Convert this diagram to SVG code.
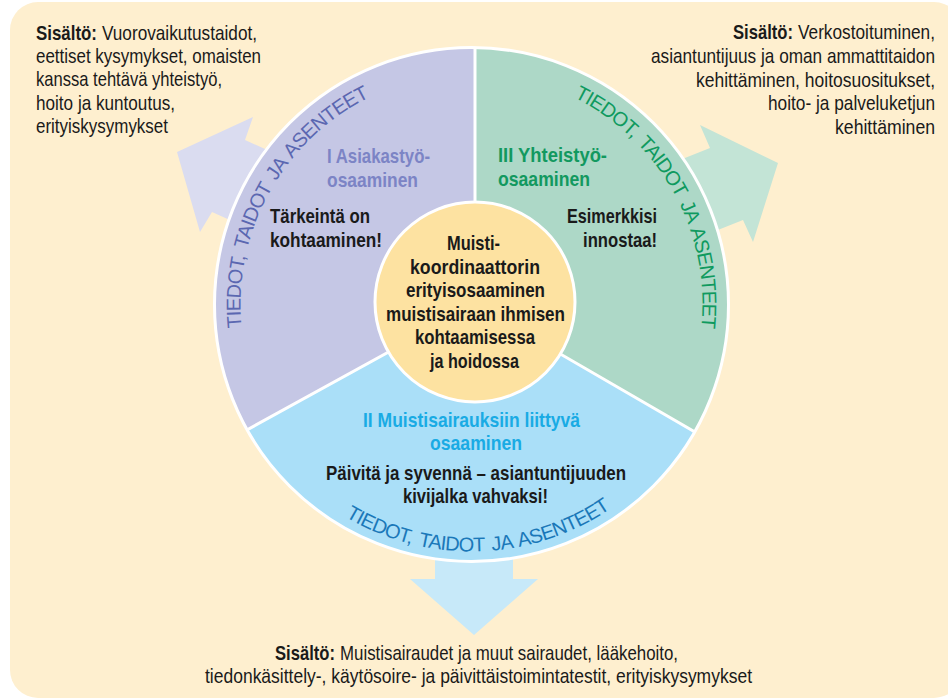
<svg xmlns="http://www.w3.org/2000/svg" width="948" height="699" viewBox="0 0 948 699">
<style>
.t{font-family:"Liberation Sans",Arial,sans-serif;font-size:21px;fill:#1a1a1a}
.b{font-weight:bold}
.e{text-anchor:end}
.arc{font-family:"Liberation Sans",Arial,sans-serif;font-size:20px;letter-spacing:-0.8px;word-spacing:3px}
.pt{fill:#7C84C5}
.gt{fill:#12995F}
.bt{fill:#19ABE4}
.div{stroke:#fff;stroke-width:3;fill:none}
</style>
<defs>
<clipPath id="clipC"><circle cx="471.5" cy="304.5" r="257"/></clipPath>
<path id="arcP" d="M273.5,423.5 A231,231 0 0 1 467.5,73.5"/>
<path id="arcG" d="M475.5,73.5 A231,231 0 0 1 669.5,423.5"/>
<path id="arcB" d="M287.1,468.8 A247,247 0 0 0 665.3,457.6"/>
</defs>
<rect id="background" x="10" y="2" width="952" height="696" rx="28" fill="#FEEFCF"/>

<g id="connectors">
<polygon points="336,181 245,140 253,117 177,152 200,232 212,212 303,253" fill="#DADCF0"/>
<polygon points="617,185 710,148 700,125 778,163 753,242 743,220 650,257" fill="#C3E4D6"/>
<polygon points="435,500 435,579 410,579 474,635 538,579 513,579 513,500" fill="#C7E9F9"/>
</g>

<g id="wheel">
<g clip-path="url(#clipC)">
<circle cx="471.5" cy="304.5" r="257" fill="#AADFF8"/>
<polygon points="475,304.5 475,30 150,30 150,483.25" fill="#C5C7E5"/>
<polygon points="475,304.5 475,30 800,30 800,493" fill="#ADD8C7"/>
<path class="div" d="M475,30 V304.5 M475,304.5 L150,483.25 M475,304.5 L800,493"/>
</g>
<circle cx="471.5" cy="304.5" r="257" fill="none" stroke="#fff" stroke-width="3"/>
</g>

<g id="segment-1">
<text class="arc" fill="#5B67B1"><textPath href="#arcP" startOffset="50%" text-anchor="middle">TIEDOT, TAIDOT JA ASENTEET</textPath></text>
<text class="t b pt" x="327" y="162.5" textLength="103" lengthAdjust="spacingAndGlyphs">I Asiakastyö-</text>
<text class="t b pt" x="327" y="186.5" textLength="91" lengthAdjust="spacingAndGlyphs">osaaminen</text>
<text class="t b" x="270" y="223.3" textLength="100" lengthAdjust="spacingAndGlyphs">Tärkeintä on</text>
<text class="t b" x="270" y="247.3" textLength="112" lengthAdjust="spacingAndGlyphs">kohtaaminen!</text>
</g>

<g id="segment-3">
<text class="arc" fill="#0F9A5F"><textPath href="#arcG" startOffset="50%" text-anchor="middle">TIEDOT, TAIDOT JA ASENTEET</textPath></text>
<text class="t b gt" x="498" y="162" textLength="109" lengthAdjust="spacingAndGlyphs">III Yhteistyö-</text>
<text class="t b gt" x="498" y="186.3" textLength="92" lengthAdjust="spacingAndGlyphs">osaaminen</text>
<text class="t b" x="567" y="223.3" textLength="90" lengthAdjust="spacingAndGlyphs">Esimerkkisi</text>
<text class="t b" x="583" y="247.3" textLength="74" lengthAdjust="spacingAndGlyphs">innostaa!</text>
</g>

<g id="segment-2">
<text class="arc" fill="#1A78B9"><textPath href="#arcB" startOffset="50%" text-anchor="middle">TIEDOT, TAIDOT JA ASENTEET</textPath></text>
<text class="t b bt" x="363" y="426.7" textLength="217" lengthAdjust="spacingAndGlyphs">II Muistisairauksiin liittyvä</text>
<text class="t b bt" x="430" y="450" textLength="92" lengthAdjust="spacingAndGlyphs">osaaminen</text>
<text class="t b" x="326" y="480" textLength="300" lengthAdjust="spacingAndGlyphs">Päivitä ja syvennä – asiantuntijuuden</text>
<text class="t b" x="403" y="503.3" textLength="145" lengthAdjust="spacingAndGlyphs">kivijalka vahvaksi!</text>
</g>

<g id="center">
<circle cx="475" cy="302" r="100" fill="#FDE2A1" stroke="#fff" stroke-width="3"/>
<text class="t b" x="447" y="250" textLength="53" lengthAdjust="spacingAndGlyphs">Muisti-</text>
<text class="t b" x="410" y="273.6" textLength="130" lengthAdjust="spacingAndGlyphs">koordinaattorin</text>
<text class="t b" x="406" y="297.2" textLength="139" lengthAdjust="spacingAndGlyphs">erityisosaaminen</text>
<text class="t b" x="386" y="320.8" textLength="179" lengthAdjust="spacingAndGlyphs">muistisairaan ihmisen</text>
<text class="t b" x="415" y="344.4" textLength="120" lengthAdjust="spacingAndGlyphs">kohtaamisessa</text>
<text class="t b" x="430" y="368" textLength="89" lengthAdjust="spacingAndGlyphs">ja hoidossa</text>
</g>

<g id="content-1">
<text class="t" y="40"><tspan class="b" x="36" textLength="61" lengthAdjust="spacingAndGlyphs">Sisältö:</tspan><tspan x="102" textLength="155" lengthAdjust="spacingAndGlyphs">Vuorovaikutustaidot,</tspan></text>
<text class="t" x="36" y="63.2" textLength="225" lengthAdjust="spacingAndGlyphs">eettiset kysymykset, omaisten</text>
<text class="t" x="36" y="86.4" textLength="186" lengthAdjust="spacingAndGlyphs">kanssa tehtävä yhteistyö,</text>
<text class="t" x="36" y="109.6" textLength="139" lengthAdjust="spacingAndGlyphs">hoito ja kuntoutus,</text>
<text class="t" x="36" y="132.8" textLength="132" lengthAdjust="spacingAndGlyphs">erityiskysymykset</text>
</g>

<g id="content-3">
<text class="t b e" x="793" y="39.3" textLength="60" lengthAdjust="spacingAndGlyphs">Sisältö:</text>
<text class="t e" x="935" y="39.3" textLength="137" lengthAdjust="spacingAndGlyphs">Verkostoituminen,</text>
<text class="t e" x="935" y="63" textLength="284" lengthAdjust="spacingAndGlyphs">asiantuntijuus ja oman ammattitaidon</text>
<text class="t e" x="935" y="86.7" textLength="239" lengthAdjust="spacingAndGlyphs">kehittäminen,  hoitosuositukset,</text>
<text class="t e" x="935" y="110.4" textLength="167" lengthAdjust="spacingAndGlyphs">hoito- ja palveluketjun</text>
<text class="t e" x="935" y="134" textLength="100" lengthAdjust="spacingAndGlyphs">kehittäminen</text>
</g>

<g id="content-2">
<text class="t" y="659.5"><tspan class="b" x="275" textLength="60" lengthAdjust="spacingAndGlyphs">Sisältö:</tspan><tspan x="340" textLength="338" lengthAdjust="spacingAndGlyphs">Muistisairaudet ja muut sairaudet, lääkehoito,</tspan></text>
<text class="t" x="205" y="682.5" textLength="547" lengthAdjust="spacingAndGlyphs">tiedonkäsittely-, käytösoire- ja päivittäistoimintatestit, erityiskysymykset</text>
</g>
</svg>
